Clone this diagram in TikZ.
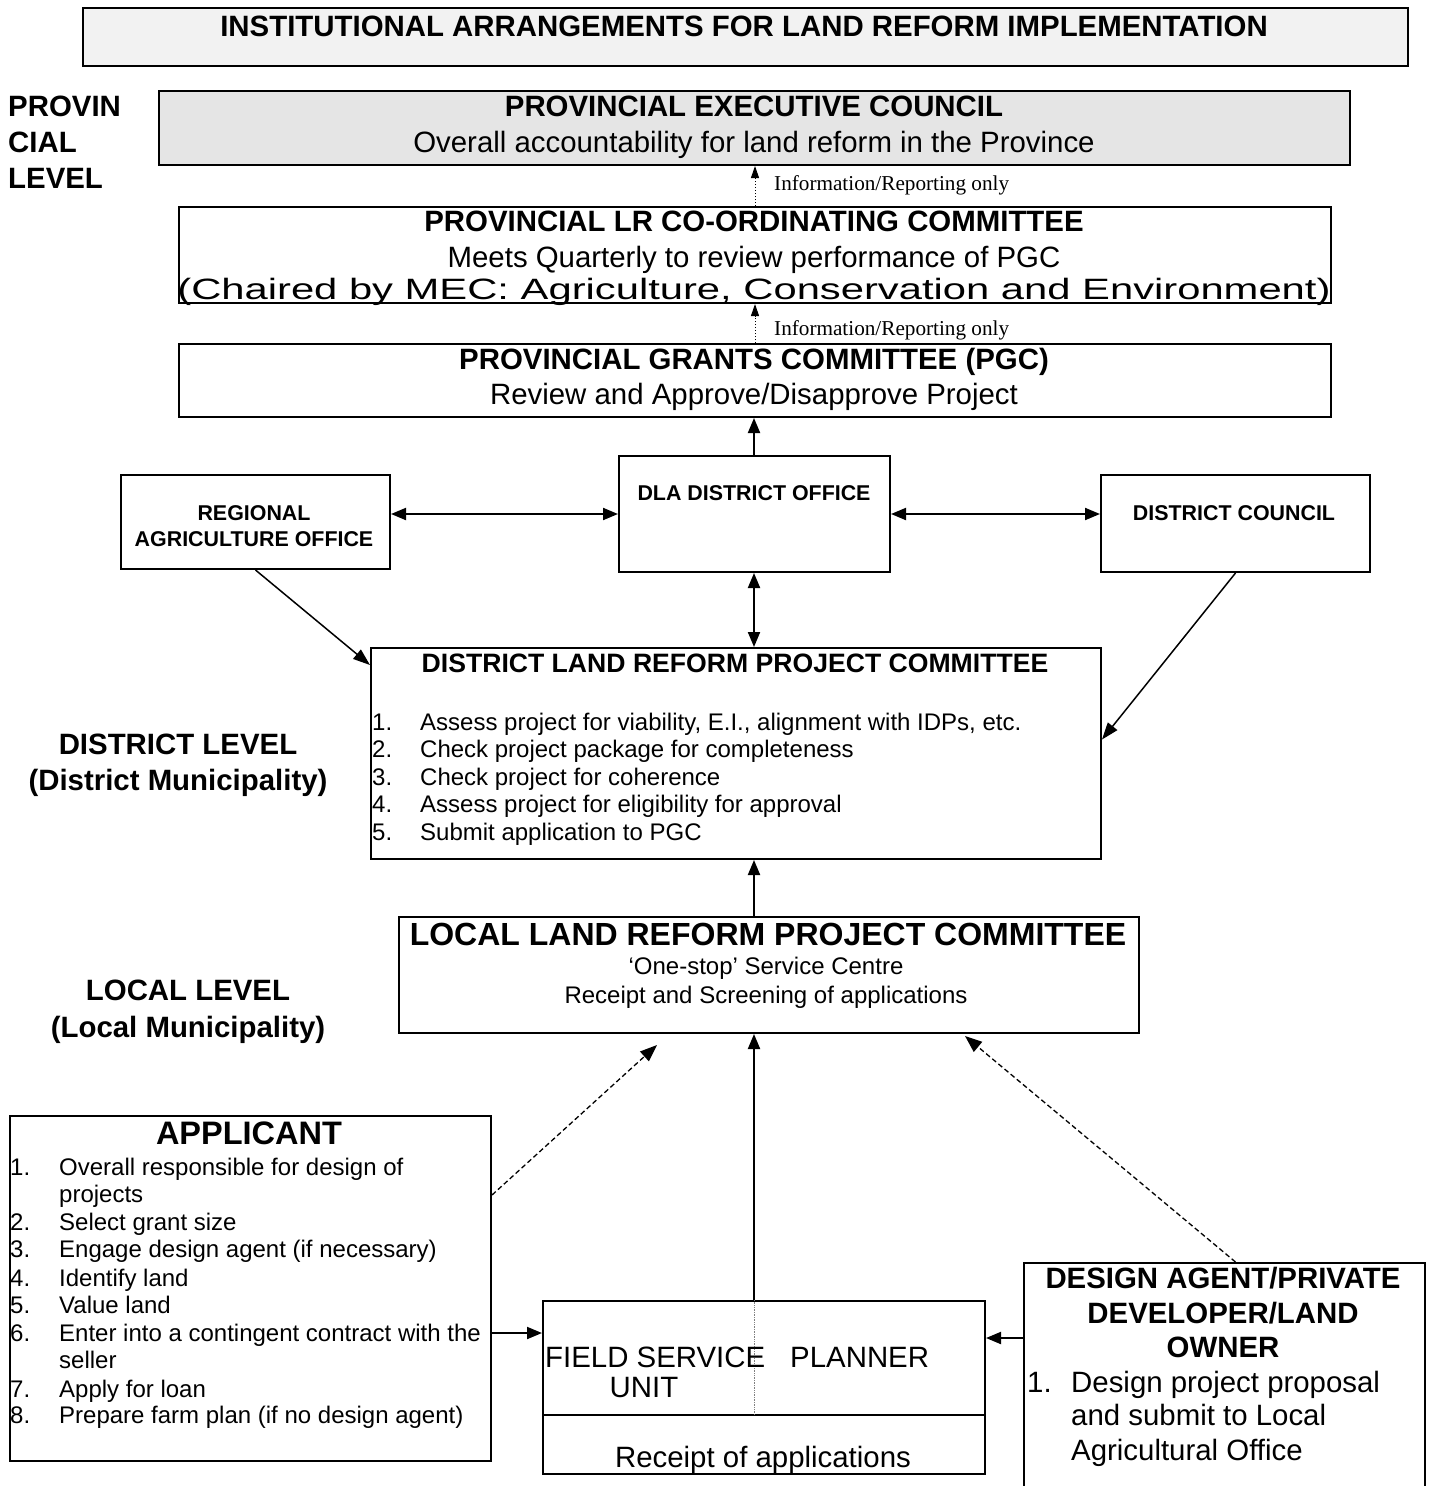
\documentclass[tikz,border=0pt]{standalone}
\usepackage{fontspec}
\setmainfont{Liberation Sans}
\newfontfamily\timesf{Liberation Serif}
\usetikzlibrary{arrows.meta}
\definecolor{pecgray}{HTML}{E5E5E5}
\definecolor{titlegray}{HTML}{F2F2F2}
\tikzset{
 box/.style={draw, line width=2pt, inner sep=0pt, anchor=north west},
 txt/.style={inner sep=0pt, anchor=mid, yshift=-0.25*#1pt, font=\fontsize{#1}{#1}\selectfont},
 btxt/.style={inner sep=0pt, anchor=mid, yshift=-0.25*#1pt, font=\fontsize{#1}{#1}\selectfont\bfseries},
 solidarrow/.style={line width=2pt, -{Triangle[length=15pt,width=12pt]}},
 dblarrow/.style={line width=2pt, {Triangle[length=15pt,width=12pt]}-{Triangle[length=15pt,width=12pt]}},
 diagarrow/.style={line width=1.5pt, -{Triangle[length=17pt,width=12pt]}},
 infoarrow/.style={line width=1pt, dotted, -{Triangle[length=12pt,width=8pt]}},
 dasharrow/.style={line width=1.3pt, dash pattern=on 5pt off 3pt, -{Triangle[length=17pt,width=13pt]}},
}
\begin{document}
\begin{tikzpicture}[x=1pt,y=-1pt]
\useasboundingbox (0,0) rectangle (1432,1486);

% ---------- boxes ----------
\node[box, fill=titlegray, minimum width=1325pt, minimum height=58pt] (title) at (82,7) {};
\node[box, fill=pecgray, minimum width=1191pt, minimum height=74pt] (pec) at (158,90) {};
\node[box, minimum width=269pt, minimum height=94pt] (rao) at (120,474) {};
\node[box, minimum width=271pt, minimum height=116pt] (dla) at (618,455) {};
\node[box, minimum width=269pt, minimum height=97pt] (dc) at (1100,474) {};
\node[box, minimum width=730pt, minimum height=211pt] (dlrpc) at (370,647) {};
\node[box, minimum width=740pt, minimum height=116pt] (local) at (398,916) {};
\node[box, minimum width=481pt, minimum height=345pt] (app) at (9,1115) {};
\node[box, minimum width=442pt, minimum height=173pt] (fsu) at (542,1300) {};
\node[box, minimum width=401pt, minimum height=230pt] (dag) at (1023,1262) {};

% ---------- texts ----------
\node[btxt=29.4] (ttltxt) at (744,27) {INSTITUTIONAL ARRANGEMENTS FOR LAND REFORM IMPLEMENTATION};

\node[btxt=29.4, anchor=mid west] (prov1) at (8,107) {PROVIN};
\node[btxt=29.4, anchor=mid west] (prov2) at (8,143) {CIAL};
\node[btxt=29.4, anchor=mid west] (prov3) at (8,179) {LEVEL};

\node[btxt=29.4] (pect) at (754,107) {PROVINCIAL EXECUTIVE COUNCIL};
\node[txt=29.4] (pecs) at (754,143) {Overall accountability for land reform in the Province};

\node[txt=29.4] (plrccc) at (754,290) {\scalebox{1.42}[1]{(Chaired by MEC: Agriculture, Conservation and Environment)}};
\node[box, minimum width=1152pt, minimum height=96pt] (plrcc) at (178,206) {};
\node[btxt=29.4] (plrcct) at (754,222) {PROVINCIAL LR CO-ORDINATING COMMITTEE};
\node[txt=29.4] (plrccs) at (754,258) {Meets Quarterly to review performance of PGC};

\node[box, minimum width=1152pt, minimum height=73pt] (pgc) at (178,343) {};
\node[btxt=29.4] (pgct) at (754,360) {PROVINCIAL GRANTS COMMITTEE (PGC)};
\node[txt=29.4] (pgcs) at (754,395) {Review and Approve/Disapprove Project};

\node[txt=21.2, anchor=mid west, font=\fontsize{21.2}{21.2}\selectfont\timesf] (info1) at (774,183) {Information/Reporting only};
\node[txt=21.2, anchor=mid west, font=\fontsize{21.2}{21.2}\selectfont\timesf] (info2) at (774,328) {Information/Reporting only};

\node[btxt=21.4] (rao1) at (254,512) {REGIONAL};
\node[btxt=21.4] (rao2) at (254,538) {AGRICULTURE OFFICE};
\node[btxt=21.4] (dlat) at (754,493) {DLA DISTRICT OFFICE};
\node[btxt=21.4] (dct) at (1234,513) {DISTRICT COUNCIL};

\node[btxt=26.6] (dlrpct) at (735,663) {DISTRICT LAND REFORM PROJECT COMMITTEE};
\foreach \n/\t/\yy in {1/{Assess project for viability, E.I., alignment with IDPs, etc.}/722,
                       2/{Check project package for completeness}/749,
                       3/{Check project for coherence}/777,
                       4/{Assess project for eligibility for approval}/804,
                       5/{Submit application to PGC}/832}{
  \node[txt=24, anchor=mid west] (dn\n) at (372,\yy) {\n.};
  \node[txt=24, anchor=mid west] (dt\n) at (420,\yy) {\t};
}

\node[btxt=29.4] (dlev1) at (178,744) {DISTRICT LEVEL};
\node[btxt=29.4] (dlev2) at (178,780) {(District Municipality)};
\node[btxt=29.4] (llev1) at (188,990) {LOCAL LEVEL};
\node[btxt=29.4] (llev2) at (188,1027) {(Local Municipality)};

\node[btxt=32] (localt) at (768,935) {LOCAL LAND REFORM PROJECT COMMITTEE};
\node[txt=24] (locals1) at (766,966) {‘One-stop’ Service Centre};
\node[txt=24] (locals2) at (766,995) {Receipt and Screening of applications};

\node[btxt=32.5] (appt) at (249,1134) {APPLICANT};
\foreach \n/\t/\yy in {1./{Overall responsible for design of}/1167,
                       /{projects}/1194,
                       2./{Select grant size}/1222,
                       3./{Engage design agent (if necessary)}/1249,
                       4./{Identify land}/1278,
                       5./{Value land}/1305,
                       6./{Enter into a contingent contract with the}/1333,
                       /{seller}/1360,
                       7./{Apply for loan}/1389,
                       8./{Prepare farm plan (if no design agent)}/1415}{
  \node[txt=24, anchor=mid west] at (10,\yy) {\n};
  \node[txt=24, anchor=mid west] at (59,\yy) {\t};
}

\draw[line width=2pt] (fsu.west |- 0,1415) -- (fsu.east |- 0,1415);
\draw[line width=0.7pt, densely dotted, gray] (754,1300) -- (754,1415);
\node[txt=29.4, anchor=mid west] (fsu1) at (545,1357) {FIELD SERVICE};
\node[txt=29.4] (fsu2) at (644,1387) {UNIT};
\node[txt=29.4, anchor=mid west] (fsu3) at (790,1357) {PLANNER};
\node[txt=29.4] (fsu4) at (763,1457) {Receipt of applications};

\node[btxt=29.4] (dag1) at (1223,1278) {DESIGN AGENT/PRIVATE};
\node[btxt=29.4] (dag2) at (1223,1313) {DEVELOPER/LAND};
\node[btxt=29.4] (dag3) at (1223,1347) {OWNER};
\node[txt=29.4, anchor=mid west] (dagn) at (1027,1382) {1.};
\node[txt=29.4, anchor=mid west] (dagi1) at (1071,1382) {Design project proposal};
\node[txt=29.4, anchor=mid west] (dagi2) at (1071,1415) {and submit to Local};
\node[txt=29.4, anchor=mid west] (dagi3) at (1071,1450) {Agricultural Office};

% ---------- connectors ----------
\coordinate (cx) at (754,0);
\coordinate (ya) at (0,1333);
\coordinate (yd) at (0,1338);
\coordinate (lhead) at (657,1045);
\coordinate (rhead) at (965,1036);

\draw[infoarrow] (plrcc.north) -- (plrcc.north |- pec.south);
\draw[infoarrow] (pgc.north) -- (pgc.north |- plrcc.south);
\draw[solidarrow] (cx |- dla.north) -- (cx |- pgc.south);
\draw[dblarrow] (rao.east |- dla.west) -- (dla.west);
\draw[dblarrow] (dla.east) -- (dla.east -| dc.west);
\draw[dblarrow] (cx |- dla.south) -- (cx |- dlrpc.north);
\draw[diagarrow] (rao.south) -- ([yshift=-18pt]dlrpc.north west);
\draw[diagarrow] (dc.south) -- ([yshift=14pt]dlrpc.east);
\draw[solidarrow] (cx |- local.north) -- (cx |- dlrpc.south);
\draw[solidarrow] (cx |- fsu.north) -- (cx |- local.south);
\draw[solidarrow] (app.east |- ya) -- (fsu.west |- ya);
\draw[solidarrow] (dag.west |- yd) -- (fsu.east |- yd);
\draw[dasharrow] ([yshift=-80pt]app.north east) -- (lhead);
\draw[dasharrow] ([xshift=11pt]dag.north) -- (rhead);
\end{tikzpicture}
\end{document}
